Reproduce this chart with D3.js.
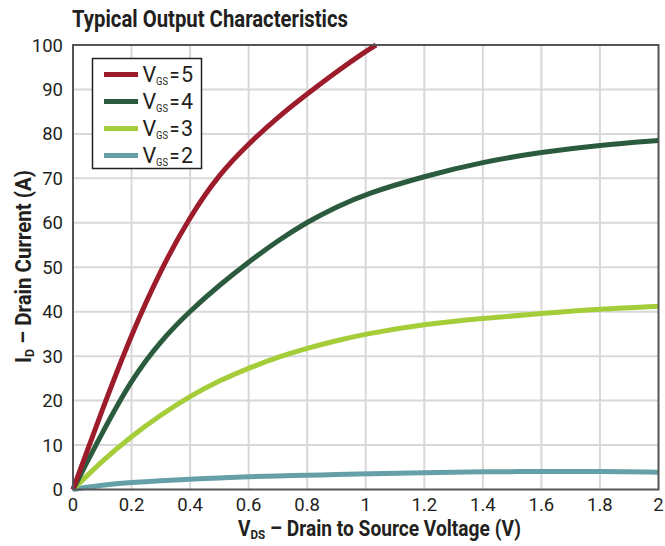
<!DOCTYPE html>
<html>
<head>
<meta charset="utf-8">
<script src="https://cdn.jsdelivr.net/npm/d3@7"></script>
<style>
  html, body { margin: 0; padding: 0; background: #fff; }
  svg { display: block; font-family: "Roboto", "Liberation Sans", sans-serif; }
</style>
</head>
<body>
<svg id="chart" width="665" height="546"></svg>
<script>
// drain voltage sample points (V)
var vds = [0, 0.1, 0.2, 0.3, 0.4, 0.5, 0.6, 0.7, 0.8, 0.9, 1.0, 1.2, 1.4, 1.6, 1.8, 2.0];

// drain current (A) per gate voltage
var vgs5 = [0, 18, 35, 49.5, 61.5, 71, 77.8, 83.8, 89, 94, 98.6];
var vgs5End = [1.035, 100];
var vgs4 = [0, 12.8, 24.8, 33.5, 40.2, 46, 51.2, 56, 60.2, 63.6, 66.5, 70.5, 73.7, 75.9, 77.5, 78.5];
var vgs3 = [0, 6.5, 12, 16.8, 21, 24.5, 27.3, 29.8, 31.8, 33.5, 35, 37.2, 38.5, 39.6, 40.6, 41.2];
var vgs2 = [0, 1, 1.6, 2, 2.3, 2.6, 2.9, 3.05, 3.2, 3.35, 3.5, 3.8, 4.0, 4.05, 4.05, 3.9];

var xTicks = [0, 0.2, 0.4, 0.6, 0.8, 1, 1.2, 1.4, 1.6, 1.8, 2];
var yTicks = [0, 10, 20, 30, 40, 50, 60, 70, 80, 90, 100];

var seriesNames = ["5", "4", "3", "2"];
var colors = ["#9d1c2b", "#2b5b3d", "#a5cd39", "#65a0a8"];

var svg = d3.select("#chart");

var plotLeft = 73, plotRight = 658.5, plotTop = 45, plotBottom = 489.5;

var x = d3.scaleLinear().domain([0, 2]).range([plotLeft, plotRight]);
var y = d3.scaleLinear().domain([0, 100]).range([plotBottom, plotTop]);

// grid
svg.append("g").selectAll("line")
    .data(xTicks.slice(1, -1))
    .enter().append("line")
    .attr("x1", function (d) { return x(d); })
    .attr("x2", function (d) { return x(d); })
    .attr("y1", plotTop).attr("y2", plotBottom)
    .attr("stroke", "#d8d8d8").attr("stroke-width", 2);

svg.append("g").selectAll("line")
    .data(yTicks.slice(1, -1))
    .enter().append("line")
    .attr("y1", function (d) { return y(d); })
    .attr("y2", function (d) { return y(d); })
    .attr("x1", plotLeft).attr("x2", plotRight)
    .attr("stroke", "#d8d8d8").attr("stroke-width", 2);

// curves (b-spline smooths out reading noise)
var line = d3.line()
    .x(function (d) { return x(d[0]); })
    .y(function (d) { return y(d[1]); })
    .curve(d3.curveBasis);

function pairs(vals) {
    return vals.map(function (v, i) { return [vds[i], v]; });
}

var curves = [
    pairs(vgs5).concat([vgs5End]),
    pairs(vgs4),
    pairs(vgs3),
    pairs(vgs2)
];

svg.append("g").selectAll("path")
    .data(curves.slice().reverse())
    .enter().append("path")
    .attr("d", line)
    .attr("fill", "none")
    .attr("stroke", function (d, i) { return colors[3 - i]; })
    .attr("stroke-width", 5)
    .attr("stroke-linecap", "butt");

// frame
svg.append("rect")
    .attr("x", plotLeft).attr("y", plotTop)
    .attr("width", plotRight - plotLeft).attr("height", plotBottom - plotTop)
    .attr("fill", "none")
    .attr("stroke", "#555").attr("stroke-width", 2);

// tick labels
svg.append("g").selectAll("text")
    .data(yTicks)
    .enter().append("text")
    .attr("x", 63)
    .attr("y", function (d) { return y(d) + 6.5; })
    .attr("text-anchor", "end")
    .attr("font-size", 18.5)
    .attr("fill", "#231f20")
    .text(function (d) { return d; });

svg.append("g").selectAll("text")
    .data(xTicks)
    .enter().append("text")
    .attr("x", function (d) { return x(d); })
    .attr("y", 511)
    .attr("text-anchor", "middle")
    .attr("font-size", 18.5)
    .attr("fill", "#231f20")
    .text(function (d) { return d; });

// legend
var legend = svg.append("g");
legend.append("rect")
    .attr("x", 92.5).attr("y", 58.5)
    .attr("width", 109).attr("height", 110)
    .attr("fill", "#fff")
    .attr("stroke", "#222").attr("stroke-width", 1.5);

var rows = legend.selectAll("g.row")
    .data(seriesNames)
    .enter().append("g")
    .attr("class", "row")
    .attr("transform", function (d, i) { return "translate(0," + (74.5 + i * 27) + ")"; });

rows.append("line")
    .attr("x1", 104).attr("x2", 138)
    .attr("stroke", function (d, i) { return colors[i]; })
    .attr("stroke-width", 5);

var lt = rows.append("text")
    .attr("y", 7.5)
    .attr("font-size", 21.5)
    .attr("fill", "#231f20");
lt.append("tspan").attr("x", 142.5).text("V");
lt.append("tspan").attr("x", 156).attr("font-size", 11.5).attr("dy", 3)
    .attr("textLength", 12).attr("lengthAdjust", "spacingAndGlyphs").text("GS");
lt.append("tspan").attr("x", 169.5).attr("dy", -3)
    .attr("textLength", 10).attr("lengthAdjust", "spacingAndGlyphs").text("=");
lt.append("tspan").attr("x", 181).text(function (d) { return d; });

// title and axis titles
svg.append("text")
    .attr("x", 72).attr("y", 27)
    .attr("font-size", 24).attr("font-weight", "bold")
    .attr("fill", "#231f20")
    .attr("textLength", 276).attr("lengthAdjust", "spacingAndGlyphs")
    .text("Typical Output Characteristics");

var xt = svg.append("text")
    .attr("x", 238).attr("y", 536)
    .attr("font-size", 21.5).attr("font-weight", "bold")
    .attr("fill", "#231f20")
    .attr("textLength", 283).attr("lengthAdjust", "spacingAndGlyphs");
xt.append("tspan").text("V");
xt.append("tspan").attr("font-size", 13).attr("dy", 3).text("DS");
xt.append("tspan").attr("dy", -3).text(" \u2013 Drain to Source Voltage (V)");

var yt = svg.append("text")
    .attr("transform", "translate(31,363) rotate(-90)")
    .attr("font-size", 21.5).attr("font-weight", "bold")
    .attr("fill", "#231f20")
    .attr("textLength", 193).attr("lengthAdjust", "spacingAndGlyphs");
yt.append("tspan").text("I");
yt.append("tspan").attr("font-size", 13).attr("dy", 3).text("D");
yt.append("tspan").attr("dy", -3).text(" \u2013 Drain Current (A)");
</script>
</body>
</html>
